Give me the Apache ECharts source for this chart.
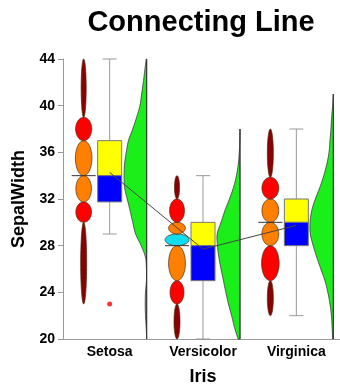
<!DOCTYPE html>
<html><head><meta charset="utf-8">
<script src="https://cdn.jsdelivr.net/npm/echarts@6/dist/echarts.min.js"></script>
<style>html,body{margin:0;padding:0;background:#fff}#c{width:340px;height:386px}</style>
</head><body><div id="c"></div>
<script>
// ---------------- data ----------------
const categories = ['Setosa', 'Versicolor', 'Virginica'];
const yMin = 20, yMax = 44, yStep = 4;

const whiskerLow  = [29, 20, 22];
const q1          = [31.75, 25, 28];
const median      = [34, 28, 30];
const q3          = [37, 30, 32];
const whiskerHigh = [44, 34, 38];
const means       = [34.28, 27.70, 29.74];
const outlierCategory = [0];
const outlierValue    = [23];

// percentile bands (edges), relative band widths, band kinds
const setosaBandEdges  = [23, 30, 31.75, 34, 37, 39, 44];
const setosaBandWidths = [0.25, 0.65, 0.65, 0.69, 0.67, 0.21];
const setosaBandKinds  = ['tail', 'mid', 'core', 'core', 'mid', 'tail'];
const versicolorBandEdges  = [20, 23, 25, 28, 29, 30, 32, 34];
const versicolorBandWidths = [0.25, 0.58, 0.70, 1.00, 0.70, 0.62, 0.21];
const versicolorBandKinds  = ['tail', 'mid', 'core', 'mode', 'core', 'mid', 'tail'];
const virginicaBandEdges  = [22, 25, 28, 30, 32, 33.86, 38];
const virginicaBandWidths = [0.25, 0.73, 0.70, 0.70, 0.70, 0.25];
const virginicaBandKinds  = ['tail', 'mid', 'core', 'core', 'mid', 'tail'];

// relative density at each level
const densityLevels = [20,21,22,23,24,25,26,27,28,29,30,31,32,33,34,35,36,37,38,39,40,41,42,43,44];
const setosaDensity     = [0.00,0.02,0.05,0.06,0.05,0.01,0.01,0.05,0.23,0.46,0.58,0.69,0.81,0.92,0.94,0.92,0.85,0.76,0.58,0.42,0.28,0.21,0.14,0.08,0.02];
const versicolorDensity = [0.08,0.23,0.35,0.48,0.59,0.69,0.79,0.88,0.94,0.95,0.79,0.63,0.44,0.27,0.15,0.07,0.03,0.01,0,0,0,0,0,0,0];
const virginicaDensity  = [0.03,0.05,0.08,0.14,0.23,0.35,0.52,0.69,0.84,0.96,0.97,0.90,0.75,0.56,0.40,0.27,0.18,0.14,0.10,0.07,0.03,0,0,0,0];

// ---------------- styling / layout ----------------
const bands = [
  {edges: setosaBandEdges, widths: setosaBandWidths, kinds: setosaBandKinds},
  {edges: versicolorBandEdges, widths: versicolorBandWidths, kinds: versicolorBandKinds},
  {edges: virginicaBandEdges, widths: virginicaBandWidths, kinds: virginicaBandKinds}
];
const densities = [setosaDensity, versicolorDensity, virginicaDensity];
const KIND_COLOR = {tail: '#8B0000', mid: '#FF0000', core: '#FF8000', mode: '#11DDEE'};
const ELL_OFFSET = -26, ELL_PX = 24;
const BOX_HALF = 12, CAP_HALF = 7;
const DENS_OFFSET = 37, DENS_PX = 24;
const GREEN = '#1aef1a';
const FONT = '"Liberation Sans", Arial, sans-serif';

function catmull(p, n) {
  const out = [];
  for (let k = 0; k < p.length - 1; k++) {
    const p0 = p[Math.max(k - 1, 0)], p1 = p[k], p2 = p[k + 1], p3 = p[Math.min(k + 2, p.length - 1)];
    for (let s = 0; s < n; s++) {
      const t = s / n, t2 = t * t, t3 = t2 * t;
      const f = (a, b, c, d) => 0.5 * ((2 * b) + (-a + c) * t + (2 * a - 5 * b + 4 * c - d) * t2 + (-a + 3 * b - 3 * c + d) * t3);
      out.push([f(p0[0], p1[0], p2[0], p3[0]), f(p0[1], p1[1], p2[1], p3[1])]);
    }
  }
  out.push(p[p.length - 1].slice());
  return out;
}

function ellipsePts(cx, cy, rx, ry) {
  const pts = [];
  for (let k = 0; k < 60; k++) {
    const a = k / 60 * Math.PI * 2;
    pts.push([cx + rx * Math.cos(a), cy + ry * Math.sin(a)]);
  }
  return pts;
}

function renderItem(params, api) {
  const i = api.value(0);
  const cx = api.coord([i, yMin])[0];
  const Y = v => api.coord([i, v])[1];
  const children = [];

  // density (half violin)
  const dens = densities[i];
  let top = 0;
  for (let k = dens.length - 1; k >= 0; k--) { if (dens[k] > 0) { top = k; break; } }
  const topIdx = Math.min(top + 1, dens.length - 1);
  const base = cx + DENS_OFFSET;
  const pts = [];
  for (let k = 0; k <= topIdx; k++) pts.push([base - dens[k] * DENS_PX, Y(densityLevels[k])]);
  const curve = catmull(pts, 6);
  curve.forEach(p => { if (p[0] > base) p[0] = base; });
  const poly = [[base, Y(densityLevels[0])]].concat(curve, [[base, Y(densityLevels[topIdx])]]);
  children.push({type: 'polygon', shape: {points: poly}, style: {fill: GREEN, stroke: '#3a3a3a', lineWidth: 0.8}});
  children.push({type: 'line', shape: {x1: base, y1: Y(densityLevels[0]), x2: base, y2: Y(densityLevels[topIdx])},
    style: {stroke: '#333', lineWidth: 1}});

  // ellipse stack
  const b = bands[i];
  const ex = cx + ELL_OFFSET;
  for (let k = 0; k < b.widths.length; k++) {
    const yl = Y(b.edges[k]), yh = Y(b.edges[k + 1]);
    children.push({type: 'polygon', shape: {points: ellipsePts(ex, (yl + yh) / 2, b.widths[k] * ELL_PX / 2, (yl - yh) / 2)},
      style: {fill: KIND_COLOR[b.kinds[k]], stroke: '#4a2a10', lineWidth: 0.7}});
  }
  const ym = Y(median[i]);
  children.push({type: 'line', shape: {x1: ex - 12, y1: ym, x2: ex + 12, y2: ym}, style: {stroke: '#333', lineWidth: 1}});

  // whiskers
  const wl = Y(whiskerLow[i]), wh = Y(whiskerHigh[i]), y1 = Y(q1[i]), y3 = Y(q3[i]);
  const ws = {stroke: '#999', lineWidth: 1};
  children.push({type: 'line', shape: {x1: cx, y1: wh, x2: cx, y2: y3}, style: ws});
  children.push({type: 'line', shape: {x1: cx, y1: y1, x2: cx, y2: wl}, style: ws});
  children.push({type: 'line', shape: {x1: cx - CAP_HALF, y1: wh, x2: cx + CAP_HALF, y2: wh}, style: ws});
  children.push({type: 'line', shape: {x1: cx - CAP_HALF, y1: wl, x2: cx + CAP_HALF, y2: wl}, style: ws});
  // box
  children.push({type: 'rect', shape: {x: cx - BOX_HALF, y: y3, width: BOX_HALF * 2, height: ym - y3},
    style: {fill: '#FFFF00', stroke: '#777', lineWidth: 1}});
  children.push({type: 'rect', shape: {x: cx - BOX_HALF, y: ym, width: BOX_HALF * 2, height: y1 - ym},
    style: {fill: '#0000FF', stroke: '#777', lineWidth: 1}});

  return {type: 'group', children: children};
}

const chart = echarts.init(document.getElementById('c'), null, {renderer: 'canvas'});
chart.setOption({
  animation: false,
  backgroundColor: '#fff',
  graphic: [{
    type: 'text', x: 201, y: 8,
    style: {text: 'Connecting Line', font: 'bold 29px ' + FONT, fill: '#000', textAlign: 'center', textVerticalAlign: 'top'}
  }],
  grid: {left: 63, right: -3, top: 59, bottom: 47, outerBoundsMode: 'none', containLabel: false},
  xAxis: {
    type: 'category', data: categories,
    axisLine: {lineStyle: {color: '#999'}},
    axisTick: {alignWithLabel: true, length: 4, lineStyle: {color: '#999'}},
    axisLabel: {fontWeight: 'bold', fontSize: 14, color: '#000', fontFamily: FONT, margin: 6},
    name: 'Iris', nameLocation: 'middle', nameGap: 29,
    nameTextStyle: {fontWeight: 'bold', fontSize: 18, color: '#000', fontFamily: FONT}
  },
  yAxis: {
    type: 'value', min: yMin, max: yMax, interval: yStep,
    axisLine: {show: true, lineStyle: {color: '#999'}},
    axisTick: {show: true, length: 5, lineStyle: {color: '#999'}},
    splitLine: {show: false},
    axisLabel: {fontWeight: 'bold', fontSize: 14, color: '#000', fontFamily: FONT, margin: 8},
    name: 'SepalWidth', nameLocation: 'middle', nameGap: 35, nameRotate: 90,
    nameTextStyle: {fontWeight: 'bold', fontSize: 18, color: '#000', fontFamily: FONT}
  },
  series: [
    {type: 'custom', renderItem: renderItem, data: categories.map((c, i) => [i]), encode: {x: 0}, z: 2, clip: false},
    {type: 'line', data: means, symbol: 'none', lineStyle: {color: '#444', width: 1}, z: 5},
    {type: 'scatter', data: outlierCategory.map((c, k) => [c, outlierValue[k]]), symbolSize: 5,
      itemStyle: {color: '#FF0000'}, z: 6}
  ]
});
</script></body></html>
